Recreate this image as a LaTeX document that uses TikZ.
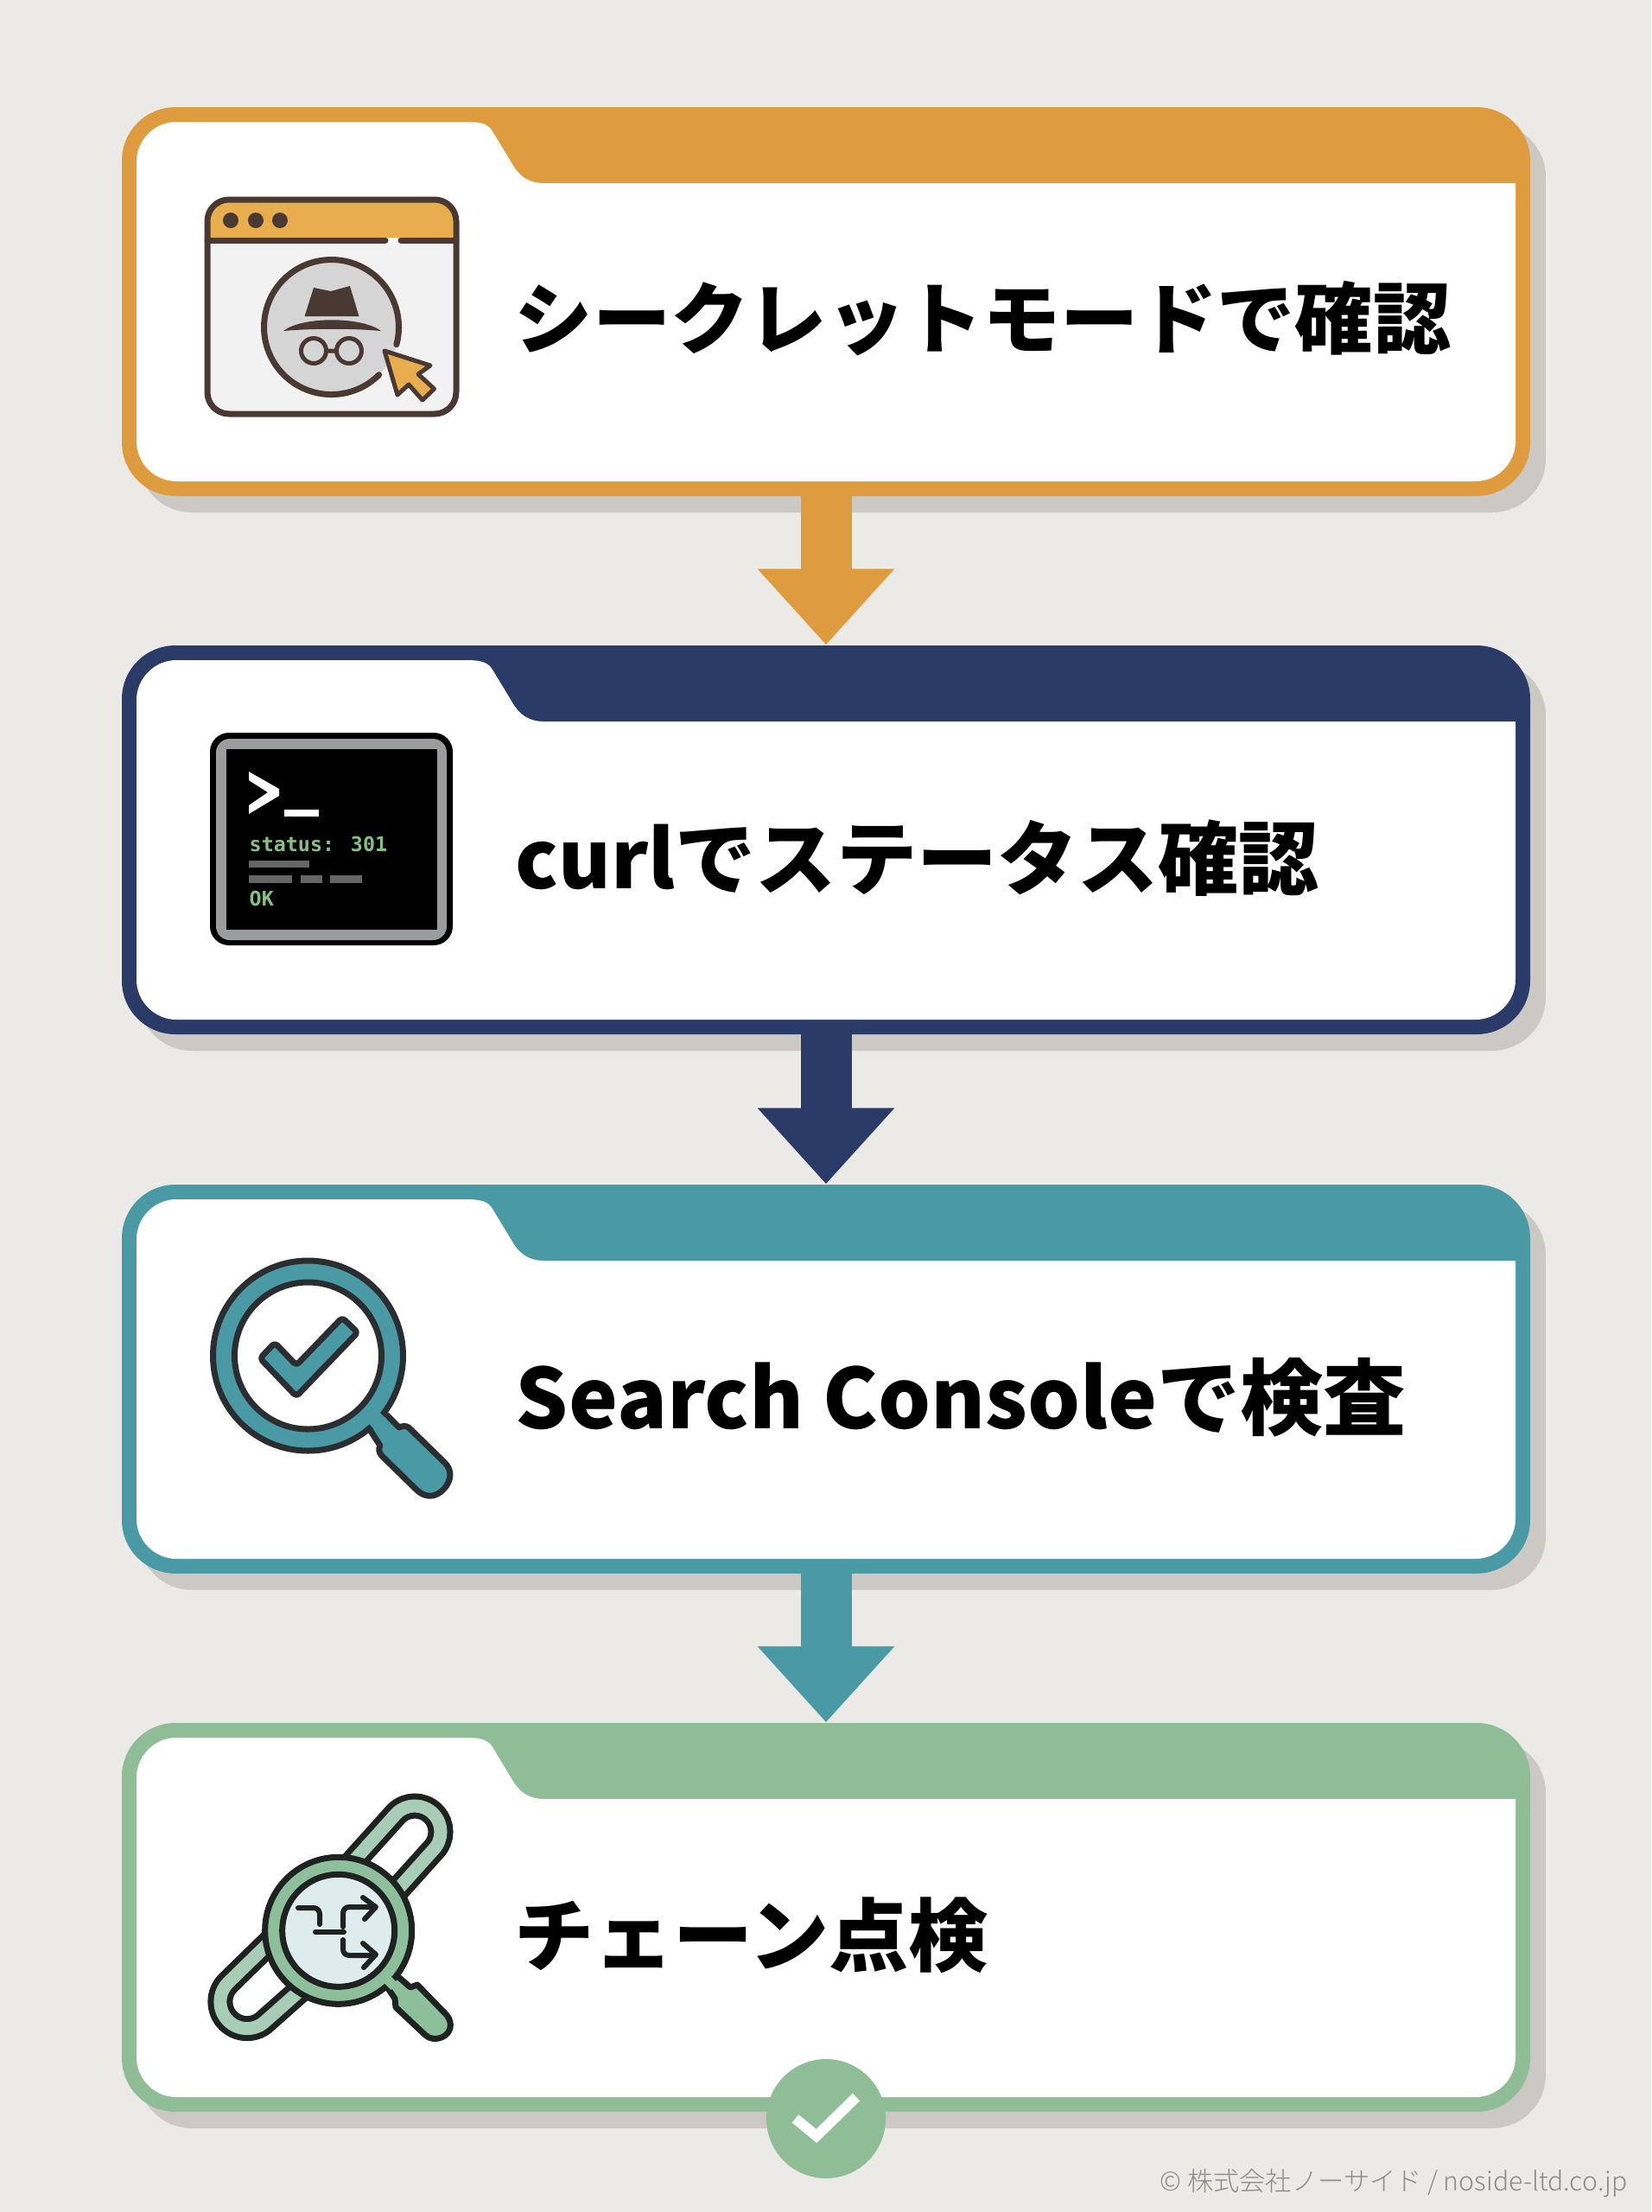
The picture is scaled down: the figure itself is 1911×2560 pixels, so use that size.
\documentclass[tikz,border=0pt]{standalone}
\usepackage{fontspec}
\setmainfont{Noto Sans CJK JP Light}
\newfontfamily\stepfont{Noto Sans CJK JP Black}
\newfontfamily\termfont{DejaVu Sans Mono}
\usetikzlibrary{arrows.meta}

\definecolor{paper}{HTML}{ECEAE6}
\definecolor{shadowgray}{HTML}{CCC9C4}
\definecolor{stepa}{HTML}{DE9C3E}
\definecolor{stepb}{HTML}{2A3B68}
\definecolor{stepc}{HTML}{4A9AA5}
\definecolor{stepd}{HTML}{8EBD96}
\definecolor{barorange}{HTML}{E8AE4E}
\definecolor{inkbrown}{HTML}{4A3832}
\definecolor{bodygray}{HTML}{F2F2F2}
\definecolor{facegray}{HTML}{D5D5D5}
\definecolor{framegray}{HTML}{9A9C9E}
\definecolor{termgreen}{HTML}{86C083}
\definecolor{termgray}{HTML}{666666}
\definecolor{inkteal}{HTML}{2A2E30}
\definecolor{inkgreen}{HTML}{1E2220}
\definecolor{linkgreen}{HTML}{A8CDB6}
\definecolor{ringgreen}{HTML}{8DC09A}
\definecolor{lensblue}{HTML}{DFECEE}

\tikzset{
	cardbox/.style={rounded corners=6.2mm, minimum width=16.3cm, minimum height=4.5cm, inner sep=0pt},
	steptext/.style={anchor=west, inner sep=0pt, text=black, font=\stepfont\fontsize{#1}{30pt}\selectfont},
	termtext/.style={anchor=base west, inner sep=0pt, text=termgreen, font=\termfont\bfseries\fontsize{6.65pt}{8pt}\selectfont},
	stepline/.style={-{Triangle[length=8.8mm,width=15.3mm]}, line width=5.9mm, shorten <=-0.3mm},
	brownline/.style={draw=inkbrown, line width=0.7mm, line join=round, line cap=round},
	tealline/.style={draw=inkteal, line width=0.7mm, line join=round},
	greenline/.style={draw=inkgreen, line width=0.7mm, line join=round, line cap=round}
}

\begin{document}
\begin{tikzpicture}[x=0.1mm, y=-0.1mm]

	\useasboundingbox (0,0) rectangle (1911,2560);
	\fill [paper] (0,0) rectangle (1911,2560);

	\foreach \n/\yt/\col in {1/0/stepa, 2/623/stepb, 3/1247/stepc, 4/1870/stepd} {
		\begin{scope}[shift={(0,\yt)}]
			\fill [shadowgray, rounded corners=6.2mm] (160,143) rectangle (1789,593);
			\node [cardbox, fill=\col] (card\n) at (956,349) {};
			\fill [white] (158,187) .. controls (158,162) and (179,141) .. (204,141) -- (540,141)
			.. controls (558,141) and (565,144) .. (570,152) -- (593,190)
			.. controls (601,204) and (612,212) .. (630,212) -- (1754,212) -- (1754,511)
			.. controls (1754,536) and (1733,557) .. (1708,557) -- (204,557)
			.. controls (179,557) and (158,536) .. (158,511) -- cycle;
		\end{scope}
	}

	\foreach \a/\b/\col in {1/2/stepa, 2/3/stepb, 3/4/stepc} {
		\draw [stepline, draw=\col] (card\a.south) -- (card\b.north);
	}

	\node [steptext=25.7pt] (label1) at (595,369) {シークレットモードで確認};
	\node [steptext=26.5pt] (label2) at (596,993) {curlでステータス確認};
	\node [steptext=27.3pt] (label3) at (596,1617) {Search Consoleで検査};
	\node [steptext=26.2pt] (label4) at (595,2240) {チェーン点検};

	\fill [bodygray, rounded corners=2.5mm] (240,231) rectangle (528,479);
	\begin{scope}
		\clip [rounded corners=2.5mm] (240,231) rectangle (528,479);
		\fill [barorange] (240,231) rectangle (528,278);
	\end{scope}
	\fill [white] (448,275) rectangle (462,282);
	\draw [brownline, rounded corners=2.5mm] (240,231) rectangle (528,479);
	\draw [brownline] (240,278) -- (446,278);
	\draw [brownline] (464,278) -- (528,278);
	\foreach \x in {267,296,324} {
		\fill [inkbrown] (\x,255) circle (9);
	}
	\fill [facegray] (383.5,378.5) circle (78);
	\draw [brownline] (438.7,433.7) arc [start angle=45, end angle=375, radius=78];
	\fill [inkbrown] (363,333) -- (383,337) -- (405,331) -- (415.5,366) -- (352.6,366) -- cycle;
	\fill [inkbrown] (328,383) .. controls (350,366) and (418,366) .. (441,383) .. controls (410,380) and (360,380) .. (328,383) -- cycle;
	\draw [brownline, line width=0.5mm] (363,406) circle (14.5) (404,406) circle (14.5) (377.5,406) -- (389.5,406);
	\draw [brownline, line width=0.5mm, fill=barorange] (445,406) -- (498,423) -- (484,433) -- (502.5,450) -- (489,463) -- (473,445) -- (460,457) -- cycle;

	\fill [black, rounded corners=2.2mm] (243,848) rectangle (524,1094);
	\fill [framegray, rounded corners=1.6mm] (250,855) rectangle (517,1088);
	\fill [black] (262,867) rectangle (506,1076);
	\fill [white] (288,893) -- (323,913) -- (323,921) -- (288,942) -- (288,932) -- (310,917) -- (288,903) -- cycle;
	\fill [white] (329,937) rectangle (369,945);
	\node [termtext] (status) at (288,985) {status: 301};
	\fill [termgray] (288,996) rectangle (358,1004);
	\fill [termgray] (288,1013) rectangle (338,1022);
	\fill [termgray] (348,1013) rectangle (373,1022);
	\fill [termgray] (382,1013) rectangle (419,1022);
	\node [termtext] (okay) at (288,1048) {OK};

	\draw [tealline, fill=stepc] (447,1637) -- (462,1652) .. controls (466,1650) and (470,1650) .. (473,1652) -- (515,1693)
	.. controls (524,1702) and (522,1714) .. (514,1723) .. controls (505,1733) and (493,1734) .. (483,1725)
	-- (442,1685) .. controls (438,1680) and (438,1677) .. (440,1673) -- (427,1653);
	\draw [tealline, fill=stepc, even odd rule] (356.5,1569) circle (110) (356.5,1569) circle (85);
	\fill [stepc] (447.9,1643.1) -- (437.9,1633.1) -- (425.1,1645.9) -- (435.1,1655.9) -- cycle;
	\draw [tealline, fill=stepc, rounded corners=0.4mm] (301,1572) -- (318,1554) -- (343,1580) -- (396,1525) -- (414,1542) -- (343,1616) -- cycle;

	\draw [inkgreen, line width=2.9mm] (401,2163) -- (458.8,2098.8) arc [start angle=225, end angle=405, radius=30] -- (451,2197);
	\draw [linkgreen, line width=1.5mm] (401,2163) -- (458.8,2098.8) arc [start angle=225, end angle=405, radius=30] -- (451,2197);
	\draw [inkgreen, line width=2.9mm] (317,2243) -- (264,2294.7) arc [start angle=225, end angle=45, radius=31] -- (357,2295);
	\draw [linkgreen, line width=1.5mm] (317,2243) -- (264,2294.7) arc [start angle=225, end angle=45, radius=31] -- (357,2295);
	\draw [greenline, fill=ringgreen] (460,2287) -- (475,2300) -- (483,2297) -- (517,2332)
	.. controls (525,2342) and (521,2353) .. (513,2357) .. controls (505,2361) and (497,2360) .. (492,2355)
	-- (458,2323) -- (457,2313) -- (447,2298);
	\draw [greenline, fill=ringgreen] (391.7,2234.3) circle (85);
	\fill [ringgreen] (460.3,2295.1) -- (451.1,2285.9) -- (443.3,2293.7) -- (452.5,2302.9) -- cycle;
	\draw [greenline, fill=lensblue] (391.7,2234.3) circle (65);
	\draw [greenline, line width=0.6mm, rounded corners=0.7mm] (345,2208) -- (370,2208) -- (370,2227);
	\draw [greenline, line width=0.6mm] (365,2236) -- (398,2236);
	\draw [greenline, line width=0.6mm, rounded corners=0.7mm] (397,2230) -- (397,2207) -- (433,2207);
	\draw [greenline, line width=0.6mm] (420,2196) -- (435,2207) -- (422,2221);
	\draw [greenline, line width=0.6mm, rounded corners=0.7mm] (397,2245) -- (397,2263) -- (433,2263);
	\draw [greenline, line width=0.6mm] (420,2249) -- (435,2262) -- (421,2277);

	\node [circle, fill=stepd, minimum size=13.8mm, inner sep=0pt] (done) at (956,2452) {};
	\draw [white, line width=1.2mm] (920.5,2452) -- (945,2472) -- (991,2427);

	\node [anchor=east, inner sep=0pt, text=black!45, font=\fontsize{8.6pt}{10pt}\selectfont] (credit) at (1884,2527) {© 株式会社ノーサイド / noside-ltd.co.jp};

\end{tikzpicture}
\end{document}
